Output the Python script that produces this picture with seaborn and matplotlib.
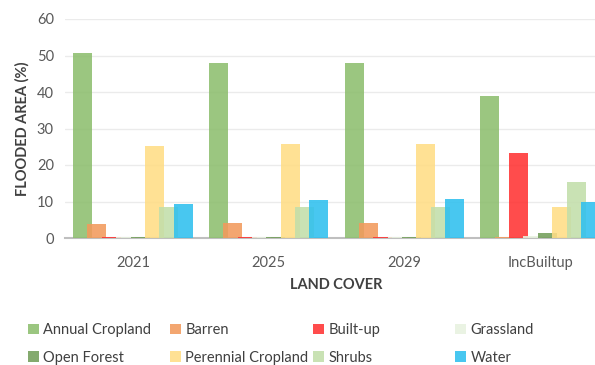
import matplotlib
matplotlib.use("Agg")
import matplotlib.pyplot as plt
import seaborn as sns
import pandas as pd
from matplotlib.patches import Patch

scenarios = ["2021", "2025", "2029", "IncBuiltup"]
land_covers = ["Annual Cropland", "Barren", "Built-up", "Grassland",
               "Open Forest", "Perennial Cropland", "Shrubs", "Water"]
annual_cropland = [50.7, 47.9, 47.9, 39.0]
barren = [3.8, 4.1, 4.0, 0.2]
built_up = [0.4, 0.4, 0.4, 23.4]
grassland = [0.3, 0.4, 0.4, 0.5]
open_forest = [0.3, 0.4, 0.3, 1.5]
perennial_cropland = [25.1, 25.8, 25.8, 8.4]
shrubs = [8.5, 8.6, 8.6, 15.4]
water = [9.3, 10.5, 10.7, 9.8]

colors = ["#8DBE6E", "#F29A5C", "#FF3333", "#E8F2E0",
          "#739E5A", "#FFDD85", "#C2DEAA", "#2FC0EF"]

series = [annual_cropland, barren, built_up, grassland,
          open_forest, perennial_cropland, shrubs, water]
rows = []
for lc, vals in zip(land_covers, series):
    for sc, v in zip(scenarios, vals):
        rows.append({"Scenario": sc, "Land cover": lc, "Value": v})
df = pd.DataFrame(rows)

sns.set_style("white")
plt.rcParams["font.family"] = ["Lato", "DejaVu Sans"]

fig = plt.figure(figsize=(5.95, 3.65), dpi=100)
ax = fig.add_axes([65 / 595, 1 - 238 / 365, 543 / 595, 219 / 365])

sns.barplot(data=df, x="Scenario", y="Value", hue="Land cover",
            order=scenarios, hue_order=land_covers, palette=colors,
            width=0.847, gap=0, saturation=1, alpha=0.88, ax=ax,
            legend=False, err_kws={"linewidth": 0})

new_w = 0.14
for p in ax.patches:
    c = p.get_x() + p.get_width() / 2
    p.set_width(new_w)
    p.set_x(c - new_w / 2)
    p.set_linewidth(0)
    p.set_zorder(3)

ax.set_ylim(0, 60)
ax.set_xlim(-0.5, 3.5)
ax.set_yticks([0, 10, 20, 30, 40, 50, 60])
ax.yaxis.grid(True, color="#EBEBEB", linewidth=1)
ax.set_axisbelow(True)
for s in ["top", "right", "left"]:
    ax.spines[s].set_visible(False)
ax.spines["bottom"].set_color("#BFBFBF")
ax.spines["bottom"].set_linewidth(1.5)
ax.spines["bottom"].set_zorder(2)
ax.tick_params(axis="both", length=0, labelsize=10.5, colors="#595959")
ax.tick_params(axis="y", pad=8)
ax.tick_params(axis="x", pad=13)
ax.set_xlabel("LAND COVER", fontsize=10.5, fontweight="bold", color="#404040", labelpad=6)
ax.set_ylabel("FLOODED AREA (%)", fontsize=10.5, fontweight="bold", color="#404040", labelpad=5)

col_x = [28, 170, 313, 455]
for i, x in enumerate(col_x):
    handles = [Patch(facecolor=colors[i], alpha=0.88, edgecolor="none", label=land_covers[i]),
               Patch(facecolor=colors[i + 4], alpha=0.88, edgecolor="none", label=land_covers[i + 4])]
    leg = fig.legend(handles=handles, loc="upper left",
                     bbox_to_anchor=(x / 595, 1 - 323 / 365),
                     frameon=False, fontsize=10.5, handlelength=0.75,
                     handleheight=0.75, handletextpad=0.3, labelspacing=0.95,
                     borderaxespad=0, borderpad=0, labelcolor="#404040")

fig.savefig("out.png", dpi=100)
